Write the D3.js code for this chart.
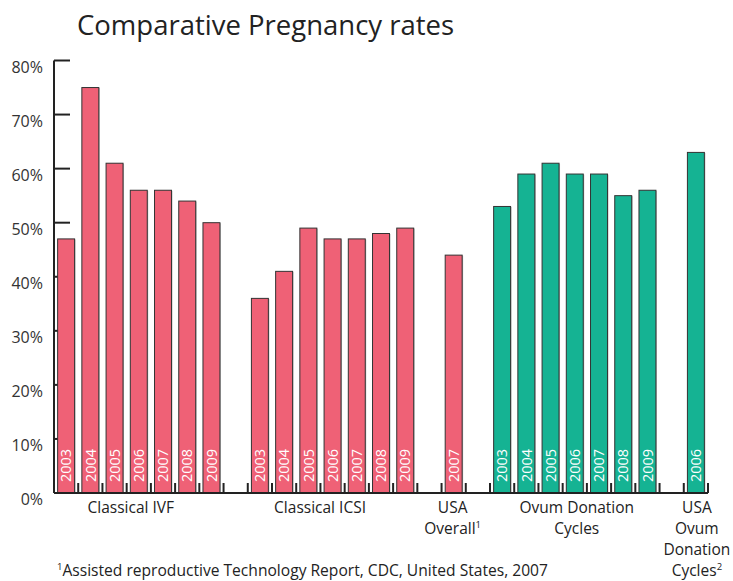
<!DOCTYPE html>
<html><head><meta charset="utf-8">
<script src="https://cdn.jsdelivr.net/npm/d3@7"></script>
<style>body{margin:0;background:#fff;} text{font-family:"Open Sans",sans-serif;}</style>
</head><body>
<svg id="c" width="733" height="581"></svg>
<script>
const title = "Comparative Pregnancy rates";
const yTicks = [0,10,20,30,40,50,60,70,80];
const ivfYears = ["2003","2004","2005","2006","2007","2008","2009"];
const ivfValues = [47,75,61,56,56,54,50];
const icsiYears = ["2003","2004","2005","2006","2007","2008","2009"];
const icsiValues = [36,41,49,47,47,48,49];
const usaYears = ["2007"];
const usaValues = [44];
const ovumYears = ["2003","2004","2005","2006","2007","2008","2009"];
const ovumValues = [53,59,61,59,59,55,56];
const usaOvumYears = ["2006"];
const usaOvumValues = [63];
const groupLabels = [["Classical IVF"],["Classical ICSI"],["USA","Overall¹"],["Ovum Donation","Cycles"],["USA","Ovum","Donation","Cycles²"]];
const footnote = "Assisted reproductive Technology Report, CDC, United States, 2007";

const pink = "#ef6176", teal = "#15b393";
const groups = [
  {years: ivfYears, values: ivfValues, color: pink},
  {years: icsiYears, values: icsiValues, color: pink},
  {years: usaYears, values: usaValues, color: pink},
  {years: ovumYears, values: ovumValues, color: teal},
  {years: usaOvumYears, values: usaOvumValues, color: teal}
];
const gapsBefore = [0,1,1,1,1];
const labelShift = [-8,-12.5,-1,2,1];
let slot = 0;
const bars = [];
const groupSpans = [];
groups.forEach((g,gi)=>{
  slot += gapsBefore[gi];
  const start = slot;
  g.values.forEach((v,i)=>{ bars.push({slot: slot, value: v, year: g.years[i], color: g.color}); slot++; });
  groupSpans.push([start, slot-1]);
});
const nSlots = slot;

const svg = d3.select("#c");
const x = d3.scaleBand().domain(d3.range(nSlots)).range([54,708]).paddingInner(0.3).paddingOuter(0.15);
const y = d3.scaleLinear().domain([0,80]).range([493,60.5]);
const step = x.step();

svg.append("text").attr("x",77).attr("y",35).attr("font-size",27.5).attr("fill","#222").text(title);

// y axis
svg.append("line").attr("x1",54).attr("x2",54).attr("y1",y(80)).attr("y2",y(0)).attr("stroke","#222").attr("stroke-width",2);
svg.selectAll(".yt").data(yTicks).enter().append("line")
  .attr("x1",54).attr("x2",70).attr("y1",d=>y(d)).attr("y2",d=>y(d)).attr("stroke","#222").attr("stroke-width",2);
svg.selectAll(".yl").data(yTicks).enter().append("text")
  .attr("x",43).attr("y",d=>y(d)+12).attr("text-anchor","end").attr("font-size",16).attr("fill","#333").text(d=>d+"%");

// bars
const bg = svg.append("g");
bg.selectAll("rect.sh").data(bars).enter().append("rect")
  .attr("x",d=>x(d.slot)+1).attr("y",d=>y(d.value)+0.5).attr("width",x.bandwidth()).attr("height",d=>y(0)-y(d.value))
  .attr("fill","#bbb");
bg.selectAll("rect.b").data(bars).enter().append("rect")
  .attr("x",d=>x(d.slot)).attr("y",d=>y(d.value)).attr("width",x.bandwidth()).attr("height",d=>y(0)-y(d.value))
  .attr("fill",d=>d.color).attr("stroke","#333").attr("stroke-width",1);
bg.selectAll("text.yr").data(bars).enter().append("text")
  .attr("transform",d=>`translate(${x(d.slot)+x.bandwidth()/2+5.2},${y(0)-11}) rotate(-90)`)
  .attr("font-size",14.5).attr("fill","#fff").text(d=>d.year);

// x axis
svg.append("line").attr("x1",54).attr("x2",708).attr("y1",y(0)).attr("y2",y(0)).attr("stroke","#222").attr("stroke-width",2);
svg.selectAll(".xt").data(d3.range(1,nSlots+1)).enter().append("line")
  .attr("x1",d=>54+d*step).attr("x2",d=>54+d*step).attr("y1",y(0)-10).attr("y2",y(0)).attr("stroke","#222").attr("stroke-width",2);

// group labels
groupLabels.forEach((lines,gi)=>{
  const [a,b] = groupSpans[gi];
  const cx = (x(a)+x(b)+x.bandwidth())/2 + labelShift[gi];
  const t = svg.append("text").attr("text-anchor","middle").attr("font-size",15.5).attr("fill","#222");
  lines.forEach((ln,li)=>{
    const sup = ln.match(/[¹²]$/);
    const base = sup ? ln.slice(0,-1) : ln;
    t.append("tspan").attr("x",cx).attr("y",513+li*21).text(base);
    if(sup){ t.append("tspan").attr("font-size",9.5).attr("dy",-6).text(sup[0]==="¹"?"1":"2"); }
  });
});

// footnote
const f = svg.append("text").attr("x",57).attr("y",576).attr("font-size",15.6).attr("fill","#222");
f.append("tspan").attr("font-size",9.5).attr("dy",-6).text("1");
f.append("tspan").attr("dy",6).text(footnote);
</script>
</body></html>
